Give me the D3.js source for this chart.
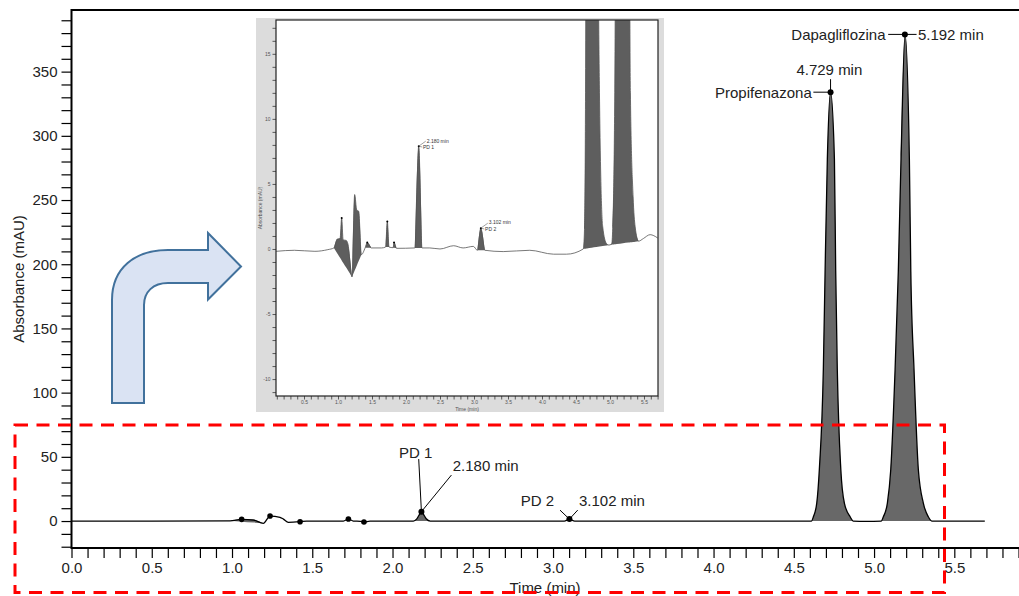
<!DOCTYPE html>
<html>
<head>
<meta charset="utf-8">
<script src="https://cdn.jsdelivr.net/npm/d3@7"></script>
<style>
  body { margin: 0; background: #fff; }
  text { font-family: "Liberation Sans", Arial, sans-serif; }
</style>
</head>
<body>
<script>
// chromatogram readings, [time (min), absorbance (mAU)]
const mainTrace = [
  [0, 0], [0.5, 0], [0.988, 0.2], [1.06, 1.3], [1.133, 0.8], [1.195, -1.8], [1.237, 3.9],
  [1.299, 2.9], [1.32, 1.5], [1.351, -1.0], [1.424, -0.5], [1.465, 0], [1.694, 0], [1.725, 1.6],
  [1.756, 0], [1.80, -0.2], [1.822, -0.8], [1.86, 0], [2.13, 0], [2.15, 1.5], [2.165, 4.5],
  [2.18, 7.3], [2.195, 4.8], [2.21, 1.8], [2.235, 0], [3.07, 0], [3.102, 1.5], [3.135, 0],
  [4.61, 0], [4.622, 3.3], [4.643, 14], [4.659, 40], [4.684, 118], [4.695, 195], [4.709, 282],
  [4.729, 334], [4.753, 282], [4.761, 195], [4.771, 118], [4.793, 40], [4.815, 14], [4.851, 3.3],
  [4.87, 0], [4.95, -0.3], [5.045, 0], [5.058, 3.3], [5.083, 14], [5.104, 40], [5.131, 118],
  [5.151, 194], [5.168, 282], [5.193, 379], [5.220, 282], [5.229, 194], [5.249, 118], [5.276, 40],
  [5.307, 14], [5.338, 3.3], [5.36, 0], [5.69, 0]
];
const mainFills = [[0.988, 1.195], [2.13, 2.235], [4.61, 4.87], [5.045, 5.36]];

const peakNames = ["PD 1", "PD 2", "Propifenazona", "Dapagliflozina"];
const peakTimes = [2.180, 3.102, 4.729, 5.192];
const peakHeights = [7.3, 1.5, 334, 379];
const minorTimes = [1.06, 1.237, 1.424, 1.725, 1.822];
const minorHeights = [1.3, 3.9, -0.5, 1.6, -0.8];

// zoomed inset (mAU)
const insetTrace = [
  [0.09, -0.18], [0.36, -0.1], [0.66, -0.18], [0.85, -0.05], [0.94, 0.08], [0.99, 0.77],
  [1.03, 0.8], [1.054, 2.38], [1.075, 0.7], [1.12, 0.66], [1.145, 0.4], [1.206, -2.15],
  [1.245, 4.18], [1.275, 3.0], [1.304, 2.9], [1.343, -0.44], [1.40, 0.1], [1.43, 0.5],
  [1.49, 0.08], [1.64, 0.08], [1.70, 0.15], [1.725, 2.12], [1.75, 0.15], [1.81, 0.1],
  [1.824, 0.5], [1.86, 0.05], [2.13, 0.08], [2.187, 7.9], [2.235, 0.08], [2.35, 0.08],
  [2.50, 0.0], [2.70, 0.25], [2.84, 0.08], [2.99, 0.2], [3.05, -0.1], [3.10, 1.6], [3.16, -0.1],
  [3.43, -0.2], [3.82, -0.1], [4.17, -0.4], [4.36, -0.4], [4.607, 0.0], [4.625, 1.5],
  [4.64, 12], [4.66, 60], [4.73, 334], [4.80, 60], [4.845, 12], [4.893, 1.7], [4.95, 0.4],
  [4.985, 0.3], [5.025, 0.4], [5.04, 1.6], [5.07, 12], [5.10, 60], [5.19, 379], [5.27, 60],
  [5.30, 12], [5.34, 4], [5.37, 1.7], [5.42, 0.6], [5.49, 0.8], [5.59, 1.1], [5.70, 0.85]
];
const insetFills = [[0.94, 1.206], [1.206, 1.343], [1.40, 1.49], [1.70, 1.75], [1.81, 1.86],
  [2.13, 2.235], [3.05, 3.16], [4.607, 4.985], [4.985, 5.42]];
const insetDots = [[1.054, 2.38], [1.43, 0.5], [1.725, 2.12], [1.824, 0.5], [2.187, 7.9], [3.10, 1.6]];
const insetLabels = [["2.180 min", "PD 1"], ["3.102 min", "PD 2"]];
const insetLabelAt = [[2.187, 7.9], [3.10, 1.6]];

const svg = d3.select("body").append("svg").attr("width", 1019).attr("height", 596);
const ink = "#222";

// ---------- main chart ----------
const x = d3.scaleLinear().domain([0, 5.903]).range([71.5, 1019]);
const y = d3.scaleLinear().domain([-21, 398]).range([548, 10]);

const fmt1 = d3.format(".1f");
const fmt3 = d3.format(".3f");
const xAxis = d3.axisBottom(x)
  .tickValues(d3.range(0, 60).map(i => i / 10))
  .tickSize(10).tickPadding(4.5)
  .tickFormat(d => (Math.round(d * 10) % 5 === 0 && d <= 5.5) ? fmt1(d) : "");
const yAxis = d3.axisLeft(y)
  .tickValues(d3.range(-20, 391, 10))
  .tickSize(10).tickPadding(4)
  .tickFormat(d => (d % 50 === 0 && d >= 0) ? d : "");

function styleAxis(g, size, sw) {
  g.select(".domain").remove();
  g.selectAll("line").attr("stroke", "#000").attr("stroke-width", sw);
  g.selectAll("text").attr("fill", ink).style("font-size", size + "px");
}

svg.append("g").attr("transform", "translate(0,548)").call(xAxis).call(styleAxis, 15, 1.2);
svg.append("g").attr("transform", "translate(71.5,0)").call(yAxis).call(styleAxis, 15, 1.2);

const frame = svg.append("g").attr("stroke", "#000").attr("stroke-width", 2);
frame.append("line").attr("x1", 71.5).attr("x2", 1019).attr("y1", 10).attr("y2", 10);
frame.append("line").attr("x1", 71.5).attr("x2", 1019).attr("y1", 548).attr("y2", 548);
frame.append("line").attr("x1", 71.5).attr("x2", 71.5).attr("y1", 9).attr("y2", 549);

svg.append("text").attr("x", 545).attr("y", 587).attr("text-anchor", "middle")
  .attr("dominant-baseline", "central").attr("fill", ink).style("font-size", "15px").text("Time (min)");
svg.append("text").attr("transform", "translate(18,279) rotate(-90)").attr("text-anchor", "middle")
  .attr("dominant-baseline", "central").attr("fill", ink).style("font-size", "15px").text("Absorbance (mAU)");

function drawTrace(g, data, fills, sx, sy, fillColor, strokeColor, sw) {
  const curve = d3.curveMonotoneX;
  fills.forEach(([a, b]) => {
    const seg = data.filter(d => d[0] >= a - 1e-9 && d[0] <= b + 1e-9);
    const p0 = seg[0], p1 = seg[seg.length - 1];
    const base = t => p0[1] + (p1[1] - p0[1]) * (t - p0[0]) / (p1[0] - p0[0]);
    g.append("path").datum(seg)
      .attr("d", d3.area().curve(curve).x(d => sx(d[0])).y0(d => sy(base(d[0]))).y1(d => sy(d[1])))
      .attr("fill", fillColor);
  });
  g.append("path").datum(data)
    .attr("d", d3.line().curve(curve).x(d => sx(d[0])).y(d => sy(d[1])))
    .attr("fill", "none").attr("stroke", strokeColor).attr("stroke-width", sw);
}

const mainG = svg.append("g");
drawTrace(mainG, mainTrace, mainFills, x, y, "#686868", "#000", 1.3);

mainG.selectAll(".minor").data(minorTimes).enter().append("circle")
  .attr("cx", d => x(d)).attr("cy", (d, i) => y(minorHeights[i])).attr("r", 2.8).attr("fill", "#000");
mainG.selectAll(".peak").data(peakTimes).enter().append("circle")
  .attr("cx", d => x(d)).attr("cy", (d, i) => y(peakHeights[i])).attr("r", 3).attr("fill", "#000");

// label placement relative to each peak marker (px)
const labelLayout = [
  { name: [-5.7, -59.6, "middle"], nameLine: [-2.7, -52.6], time: [31.3, -46.6, "start"], timeLine: [30, -36.6] },
  { name: [-31.9, -19, "middle"], nameLine: [-9.4, -9], time: [9.6, -19, "start"], timeLine: [8.3, -9] },
  { name: [-18.8, 0, "end"], nameLine: [-17.2, 0], time: [-1.2, -22.8, "middle"], timeLine: [0, -13] },
  { name: [-19.3, 0, "end"], nameLine: [-16.7, 0], time: [13, 0, "start"], timeLine: [11.7, 0] }
];
peakNames.forEach((name, i) => {
  const mx = x(peakTimes[i]), my = y(peakHeights[i]), L = labelLayout[i];
  mainG.append("line").attr("x1", mx + L.nameLine[0]).attr("y1", my + L.nameLine[1])
    .attr("x2", mx).attr("y2", my).attr("stroke", "#000").attr("stroke-width", 1);
  mainG.append("line").attr("x1", mx + L.timeLine[0]).attr("y1", my + L.timeLine[1])
    .attr("x2", mx).attr("y2", my).attr("stroke", "#000").attr("stroke-width", 1);
  mainG.append("text").attr("x", mx + L.name[0]).attr("y", my + L.name[1])
    .attr("text-anchor", L.name[2]).attr("dominant-baseline", "central")
    .attr("fill", ink).style("font-size", "15px").text(name);
  mainG.append("text").attr("x", mx + L.time[0]).attr("y", my + L.time[1])
    .attr("text-anchor", L.time[2]).attr("dominant-baseline", "central")
    .attr("fill", ink).style("font-size", "15px").text(fmt3(peakTimes[i]) + " min");
});

// ---------- inset ----------
const inset = svg.append("g");
inset.append("rect").attr("x", 256).attr("y", 18).attr("width", 408).attr("height", 394).attr("fill", "#dcdcdc");
inset.append("rect").attr("x", 276).attr("y", 20).attr("width", 382).attr("height", 376).attr("fill", "#fff");

const ix = d3.scaleLinear().domain([0.088, 5.706]).range([276, 658]);
const iy = d3.scaleLinear().domain([-11.3, 17.6]).range([396, 20]);

const ixAxis = d3.axisBottom(ix).tickValues(d3.range(1, 58).map(i => i / 10))
  .tickSize(3.5).tickPadding(0.5)
  .tickFormat(d => Math.round(d * 10) % 5 === 0 ? fmt1(d) : "");
const iyAxis = d3.axisLeft(iy).tickValues(d3.range(-11, 18))
  .tickSize(3.5).tickPadding(2)
  .tickFormat(d => d % 5 === 0 ? d : "");
inset.append("g").attr("transform", "translate(0,396)").call(ixAxis).call(styleAxis, 5, 0.6)
  .selectAll("text").attr("fill", "#555");
inset.append("g").attr("transform", "translate(276,0)").call(iyAxis).call(styleAxis, 5, 0.6)
  .selectAll("text").attr("fill", "#555");

svg.append("clipPath").attr("id", "insetClip").append("rect")
  .attr("x", 276).attr("y", 20).attr("width", 382).attr("height", 376);
const insetPlot = inset.append("g").attr("clip-path", "url(#insetClip)");
drawTrace(insetPlot, insetTrace, insetFills, ix, iy, "#5e5e5e", "#555", 0.8);
insetPlot.selectAll("circle").data(insetDots).enter().append("circle")
  .attr("cx", d => ix(d[0])).attr("cy", d => iy(d[1])).attr("r", 1).attr("fill", "#000");

insetLabels.forEach((lab, i) => {
  const mx = ix(insetLabelAt[i][0]), my = iy(insetLabelAt[i][1]);
  inset.append("line").attr("x1", mx).attr("y1", my).attr("x2", mx + 7).attr("y2", my - 5)
    .attr("stroke", "#444").attr("stroke-width", 0.5);
  inset.append("line").attr("x1", mx).attr("y1", my).attr("x2", mx + 3.5).attr("y2", my + 0.8)
    .attr("stroke", "#444").attr("stroke-width", 0.5);
  inset.append("text").attr("x", mx + 8).attr("y", my - 5.7).attr("dominant-baseline", "central")
    .attr("fill", "#333").style("font-size", "5px").text(lab[0]);
  inset.append("text").attr("x", mx + 4.3).attr("y", my + 1).attr("dominant-baseline", "central")
    .attr("fill", "#333").style("font-size", "5px").text(lab[1]);
});

inset.append("rect").attr("x", 276).attr("y", 20).attr("width", 382).attr("height", 376)
  .attr("fill", "none").attr("stroke", "#222").attr("stroke-width", 1.2);

inset.append("text").attr("x", 467).attr("y", 408.5).attr("text-anchor", "middle")
  .attr("dominant-baseline", "central").attr("fill", "#555").style("font-size", "5px").text("Time (min)");
inset.append("text").attr("transform", "translate(260,208) rotate(-90)").attr("text-anchor", "middle")
  .attr("dominant-baseline", "central").attr("fill", "#555").style("font-size", "5px").text("Absorbance (mAU)");

// ---------- arrow and highlight box ----------
svg.append("path")
  .attr("d", "M112,403 V300 C112,268 135,250 168,250 H208 V233 L241,266.5 L208,299.5 V283 H168 C153,283 144,292 144,305 V403 Z")
  .attr("fill", "#dae3f3").attr("stroke", "#41719c").attr("stroke-width", 2).attr("stroke-linejoin", "miter");

svg.append("rect").attr("x", 15).attr("y", 425).attr("width", 929.5).attr("height", 167.5)
  .attr("fill", "none").attr("stroke", "#ff0000").attr("stroke-width", 3)
  .attr("stroke-dasharray", "13,8.5");
</script>
</body>
</html>
